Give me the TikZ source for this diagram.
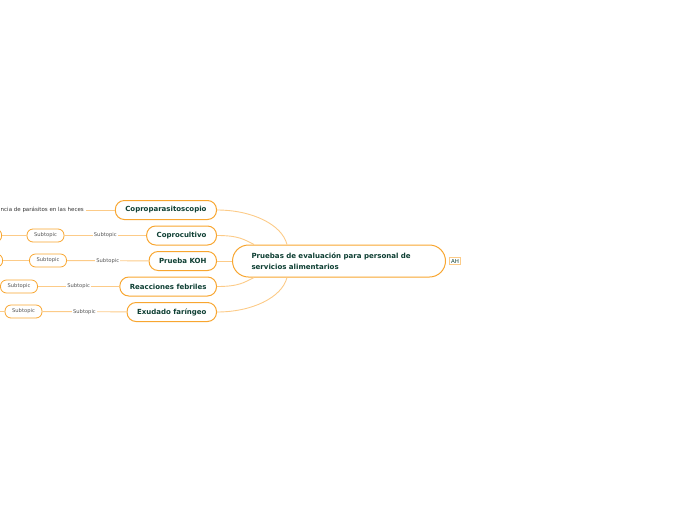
\documentclass[tikz,border=0pt]{standalone}
\usepackage{fontspec}
\setmainfont{DejaVu Sans}
\usepackage{xcolor}
\definecolor{mmorange}{HTML}{F8A630}
\definecolor{mmline}{HTML}{FCCB88}
\definecolor{mmgreen}{HTML}{0E3F33}
\definecolor{mmgray}{HTML}{555555}

\tikzset{
  topic/.style={draw=mmorange,line width=1pt,fill=white,rounded corners=9pt,minimum height=19pt,inner xsep=10pt,font=\fontsize{7}{8}\selectfont\bfseries,text=mmgreen},
  subtopic/.style={draw=mmorange,line width=0.8pt,fill=white,rounded corners=6pt,minimum height=13pt,minimum width=37pt,inner xsep=2pt,font=\fontsize{5.2}{6}\selectfont,text=mmgray},
  linktext/.style={fill=white,inner sep=1pt,font=\fontsize{5.2}{6}\selectfont,text=mmgray},
  link/.style={draw=mmline,line width=0.9pt},
}

\begin{document}
\begin{tikzpicture}[x=1pt,y=-1pt]

\useasboundingbox (0,0) rectangle (696,520);
\clip (0,0) rectangle (696,520);

% root
\node[draw=mmorange,line width=1pt,fill=white,rounded corners=16pt,minimum height=32pt,inner xsep=19pt,text width=175pt,align=left,font=\fontsize{7.05}{11}\selectfont\bfseries,text=mmgreen] (R) at (339,261) {Pruebas de evaluación para personal de\\servicios alimentarios};
\node[draw=mmline,line width=0.6pt,inner sep=1.5pt,font=\fontsize{5.5}{6}\selectfont,text=mmgreen] (AH) at (455,261) {AH};

% main topics
\node[topic,anchor=east] (A1) at (217,210) {Coproparasitoscopio};
\node[topic,anchor=east] (A2) at (217,235.5) {Coprocultivo};
\node[topic,anchor=east] (A3) at (217,261) {Prueba KOH};
\node[topic,anchor=east] (A4) at (217,286.5) {Reacciones febriles};
\node[topic,anchor=east] (A5) at (217,312) {Exudado faríngeo};

% subtopics
\node[anchor=east,inner sep=2pt,font=\fontsize{5.5}{6}\selectfont,text=black!80] (T1) at (86,210) {ncia de parásitos en las heces};
\node[subtopic] (S2) at (45.5,235.5) {Subtopic};
\node[subtopic,anchor=east] (S2b) at (2,235.5) {};
\node[subtopic] (S3) at (48,260.5) {Subtopic};
\node[subtopic,anchor=east] (S3b) at (3,260.5) {};
\node[subtopic] (S4) at (19,286.5) {Subtopic};
\node[subtopic] (S5) at (23.5,311.5) {Subtopic};
\coordinate (X5) at (0,311.5);

% links to root
\draw[link] (A1.east) .. controls +(35,0) and +(-5,-20) .. ([xshift=55pt]R.north west);
\draw[link] (A2.east) .. controls +(22,0) and +(-10,-5) .. ([xshift=22pt]R.north west);
\draw[link] (A3.east) -- (R.west);
\draw[link] (A4.east) .. controls +(22,0) and +(-10,5) .. ([xshift=22pt]R.south west);
\draw[link] (A5.east) .. controls +(35,0) and +(-5,20) .. ([xshift=55pt]R.south west);

% links to subtopics
\draw[link] (A1) -- (T1);
\draw[link] (A2) -- node[linktext] {Subtopic} (S2);
\draw[link] (S2) -- (S2b);
\draw[link] (A3) -- node[linktext] {Subtopic} (S3);
\draw[link] (S3) -- (S3b);
\draw[link] (A4) -- node[linktext] {Subtopic} (S4);
\draw[link] (A5) -- node[linktext] {Subtopic} (S5);
\draw[link] (S5) -- (X5);

\end{tikzpicture}
\end{document}
